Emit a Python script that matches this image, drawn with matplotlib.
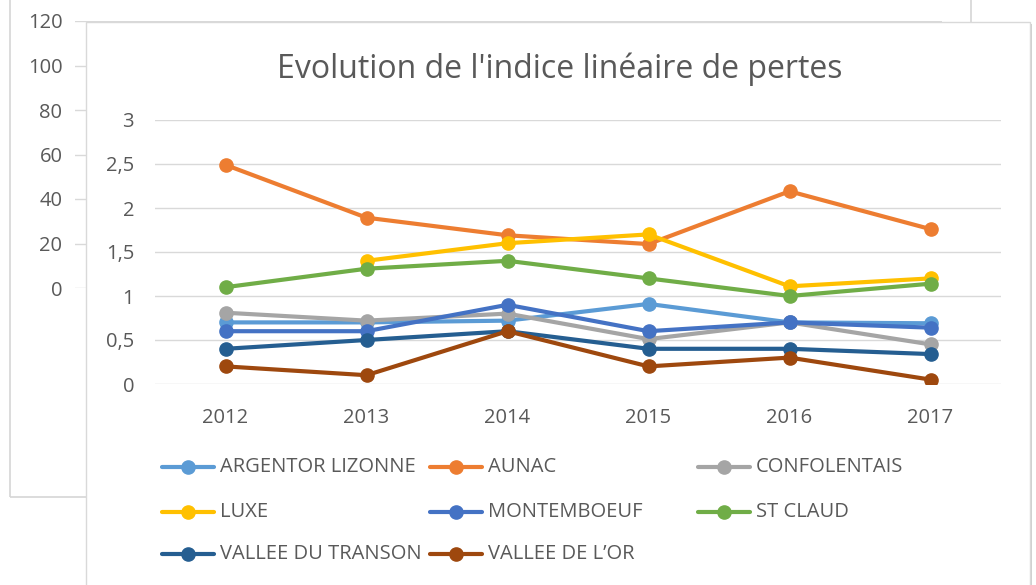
import matplotlib.pyplot as plt
from matplotlib.patches import Rectangle
from matplotlib.lines import Line2D
import numpy as np

plt.rcParams['font.family'] = ['Open Sans', 'DejaVu Sans']

W, H = 1036, 585
GREY = '#595959'

years = ['2012', '2013', '2014', '2015', '2016', '2017']
names = ['ARGENTOR LIZONNE', 'AUNAC', 'CONFOLENTAIS', 'LUXE', 'MONTEMBOEUF',
         'ST CLAUD', 'VALLEE DU TRANSON', 'VALLEE DE L\u2019OR']
colors = ['#5B9BD5', '#ED7D31', '#A5A5A5', '#FFC000', '#4472C4',
          '#70AD47', '#255E91', '#9E480E']

argentor = [0.70, 0.70, 0.72, 0.91, 0.70, 0.69]
aunac = [2.49, 1.89, 1.69, 1.59, 2.19, 1.76]
confolentais = [0.81, 0.72, 0.80, 0.51, 0.70, 0.45]
luxe = [np.nan, 1.40, 1.60, 1.70, 1.11, 1.20]
montemboeuf = [0.60, 0.60, 0.90, 0.60, 0.70, 0.64]
st_claud = [1.10, 1.31, 1.40, 1.20, 1.00, 1.14]
transon = [0.40, 0.50, 0.60, 0.40, 0.40, 0.34]
vallee_or = [0.20, 0.10, 0.60, 0.20, 0.30, 0.05]
series = [argentor, aunac, confolentais, luxe, montemboeuf, st_claud, transon, vallee_or]

bg_ticks = [0, 20, 40, 60, 80, 100, 120]
fg_ticks = [0, 0.5, 1, 1.5, 2, 2.5, 3]
fg_labels = ['0', '0,5', '1', '1,5', '2', '2,5', '3']

fig = plt.figure(figsize=(W / 100, H / 100), dpi=100)

# chart behind (only its y axis is visible)
bg = fig.add_axes([75 / W, 1 - 288 / H, (942 - 75) / W, (288 - 21) / H])
bg.patch.set_alpha(0)
bg.set_ylim(0, 120)
bg.set_yticks(bg_ticks)
bg.set_xticks([])
bg.tick_params(axis='y', length=0, pad=9, labelsize=14.5, labelcolor=GREY)
bg.grid(axis='y', color='#d9d9d9', lw=1)
for s in bg.spines.values():
    s.set_visible(False)
fig.add_artist(Rectangle((10 / W, 1 - 497 / H), (971 - 10) / W, 497 / H + 0.05,
                         transform=fig.transFigure, fill=False, ec='#d6d6d6', lw=1.2, zorder=0.5))

# front chart box with a light shadow
fig.add_artist(Rectangle((88 / W, -0.05), (1032 - 88) / W, 1 - 24 / H + 0.05,
                         transform=fig.transFigure, fc='#d0d0d0', ec='none', zorder=0.9))
fig.add_artist(Rectangle((86 / W, -0.05), (1030 - 86) / W, 1 - 22 / H + 0.05,
                         transform=fig.transFigure, fc='white', ec='#d9d9d9', lw=1, zorder=1))

ax = fig.add_axes([155 / W, 1 - 384 / H, (1001 - 155) / W, (384 - 120) / H])
ax.set_zorder(2)
ax.patch.set_alpha(0)
x = np.arange(len(years))
for vals, c in zip(series, colors):
    ax.plot(x, vals, color=c, lw=3, marker='o', ms=9.5, solid_capstyle='round')
ax.set_xlim(-0.5, 5.5)
ax.set_ylim(0, 3)
ax.set_xticks(x)
ax.set_xticklabels(years)
ax.set_yticks(fg_ticks)
ax.set_yticklabels(fg_labels)
ax.tick_params(length=0, labelsize=14.5, labelcolor=GREY)
ax.tick_params(axis='x', pad=17)
ax.tick_params(axis='y', pad=15)
ax.grid(axis='y', color='#d9d9d9', lw=1)
ax.set_axisbelow(True)
for s in ax.spines.values():
    s.set_visible(False)

fig.text(560 / W, 1 - 78 / H, "Evolution de l'indice linéaire de pertes",
         ha='center', va='baseline', fontsize=23, color=GREY, zorder=3)

# legend, three equal columns like Excel
col_x = [162, 430, 698]
row_y = [467, 512, 554]
for i, (name, c) in enumerate(zip(names, colors)):
    lx = col_x[i % 3]
    ly = 1 - row_y[i // 3] / H
    fig.add_artist(Line2D([lx / W, (lx + 52) / W], [ly, ly], transform=fig.transFigure,
                          color=c, lw=3, solid_capstyle='round', zorder=3))
    fig.add_artist(Line2D([(lx + 26) / W], [ly], transform=fig.transFigure,
                          color=c, marker='o', ms=9.5, zorder=3))
    fig.text((lx + 58) / W, ly, name, ha='left', va='center', fontsize=14.5, color=GREY, zorder=3)

fig.savefig('out.png', dpi=100)
